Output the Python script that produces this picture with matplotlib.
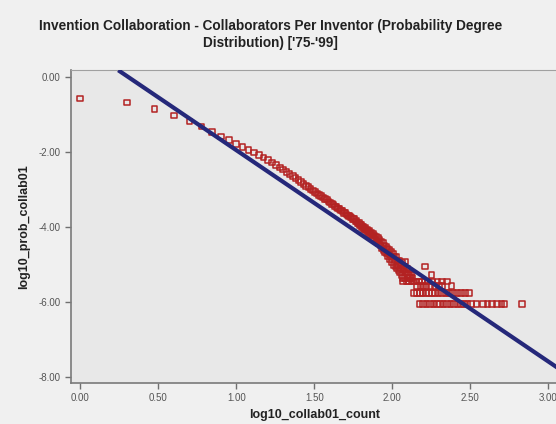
import numpy as np
import matplotlib
matplotlib.use("Agg")
import matplotlib.pyplot as plt

plt.rcParams['font.family'] = ['Liberation Sans', 'DejaVu Sans']
plt.rcParams['axes.unicode_minus'] = False

# -----------------------------
# Data
# -----------------------------
# smooth head of the distribution (one point per collaborator count)
head_x = [0.000, 0.301, 0.477, 0.602, 0.699, 0.778, 0.845, 0.903, 0.954, 1.000,
          1.041, 1.079, 1.114, 1.146, 1.176, 1.204, 1.230, 1.255, 1.279, 1.301,
          1.322, 1.342, 1.362, 1.380, 1.398, 1.415, 1.431, 1.447, 1.462, 1.477,
          1.491, 1.505, 1.519, 1.531, 1.544, 1.556, 1.568, 1.580, 1.591, 1.602,
          1.613, 1.623, 1.633, 1.643, 1.653, 1.663, 1.672, 1.681, 1.690, 1.699]
head_y = [-0.58, -0.69, -0.86, -1.04, -1.20, -1.33, -1.47, -1.59, -1.69, -1.79,
          -1.87, -1.95, -2.02, -2.09, -2.16, -2.23, -2.29, -2.36, -2.42, -2.48,
          -2.54, -2.60, -2.65, -2.70, -2.76, -2.81, -2.86, -2.91, -2.95, -3.00,
          -3.04, -3.08, -3.12, -3.15, -3.19, -3.22, -3.27, -3.28, -3.33, -3.36,
          -3.40, -3.41, -3.46, -3.48, -3.52, -3.53, -3.57, -3.59, -3.63, -3.64]

# noisy middle section
mid_x = [1.708, 1.716, 1.724, 1.732, 1.740, 1.748, 1.756, 1.763, 1.771, 1.778,
         1.785, 1.792, 1.799, 1.806, 1.813, 1.820, 1.826, 1.833, 1.839, 1.845,
         1.851, 1.857, 1.863, 1.869, 1.875, 1.881, 1.886, 1.892, 1.898, 1.903,
         1.908, 1.914, 1.919, 1.924, 1.929, 1.934, 1.940, 1.944, 1.949, 1.954,
         1.959, 1.964, 1.968, 1.973, 1.978, 1.982, 1.987, 1.991, 1.996, 2.000,
         2.004, 2.009, 2.013, 2.017, 2.021, 2.025, 2.029, 2.033, 2.037, 2.041,
         2.045, 2.049, 2.053, 2.057, 2.061, 2.064, 2.068, 2.072, 2.076, 2.079,
         2.083, 2.086, 2.093, 2.097, 2.100, 2.107, 2.111, 2.114, 2.124, 2.130]
mid_y = [-3.68, -3.70, -3.71, -3.75, -3.76, -3.80, -3.80, -3.86, -3.85, -3.90,
         -3.91, -3.96, -3.94, -4.01, -4.00, -4.06, -4.03, -4.10, -4.08, -4.15,
         -4.12, -4.20, -4.16, -4.24, -4.20, -4.30, -4.24, -4.34, -4.27, -4.40,
         -4.31, -4.45, -4.36, -4.50, -4.40, -4.58, -4.44, -4.62, -4.50, -4.68,
         -4.55, -4.72, -4.60, -4.80, -4.62, -4.75, -4.88, -4.68, -4.82, -4.95,
         -4.72, -5.02, -4.80, -4.90, -5.07, -4.80, -5.12, -4.92, -5.02, -5.17,
         -4.90, -5.22, -5.02, -5.12, -5.29, -4.97, -5.37, -5.17, -5.07, -5.37,
         -4.93, -5.22, -5.29, -5.12, -5.29, -5.37, -5.22, -5.37, -5.29, -5.37]

# sparse tail: counts of 1..4 inventors sit on fixed levels
tail_x4 = [2.068, 2.093, 2.107, 2.124, 2.140, 2.155, 2.170, 2.190, 2.210, 2.230,
           2.255, 2.290, 2.320, 2.350]
tail_x3 = [2.160, 2.180, 2.200, 2.220, 2.245, 2.270, 2.300, 2.320, 2.380]
tail_x2 = [2.140, 2.160, 2.176, 2.195, 2.215, 2.235, 2.255, 2.275, 2.295, 2.320,
           2.345, 2.365, 2.390, 2.415, 2.440, 2.465, 2.490]
tail_x1 = [2.175, 2.197, 2.219, 2.241, 2.263, 2.285, 2.307, 2.329, 2.351, 2.373,
           2.395, 2.417, 2.439, 2.461, 2.483, 2.505, 2.540, 2.580, 2.610, 2.640,
           2.670, 2.700, 2.720, 2.830]
tail_levels = [-5.47, -5.59, -5.77, -6.07]
extra_x = [2.210, 2.250]
extra_y = [-5.07, -5.29]

# power-law fit line
fit_intercept = 0.86
fit_slope = -2.82
fit_range = [0.255, 3.10]

x = head_x + mid_x + extra_x
y = head_y + mid_y + extra_y
for lev, xs in zip(tail_levels, [tail_x4, tail_x3, tail_x2, tail_x1]):
    x += xs
    y += [lev] * len(xs)

# -----------------------------
# Plot
# -----------------------------
fig = plt.figure(figsize=(5.56, 4.24), dpi=100, facecolor='#f0f0f0')
ax = fig.add_axes([0.128, 0.097, 0.875, 0.738])
ax.set_facecolor('#e8e8e8')

ax.scatter(x, y, marker='s', s=16, facecolors='none', edgecolors='#b32222',
           linewidths=1.1, zorder=2)

fx = np.array(fit_range)
ax.plot(fx, fit_intercept + fit_slope * fx, color='#25287a', lw=3, zorder=3)

ax.set_xlim(-0.058, 3.06)
ax.set_ylim(-8.17, 0.18)
ax.set_xticks([0, 0.5, 1.0, 1.5, 2.0, 2.5, 3.0])
ax.set_yticks([0, -2, -4, -6, -8])
ax.xaxis.set_major_formatter(matplotlib.ticker.FormatStrFormatter('%.2f'))
ax.yaxis.set_major_formatter(matplotlib.ticker.FormatStrFormatter('%.2f'))
ax.tick_params(colors='#707070', labelcolor='#555555', labelsize=7, length=4, width=1)

for side in ['left', 'bottom']:
    ax.spines[side].set_color('#7a7a7a')
    ax.spines[side].set_linewidth(1.2)
ax.spines['top'].set_color('#a0a0a0')
ax.spines['right'].set_visible(False)

ax.set_xlabel('log10_collab01_count', fontsize=9, fontweight='bold', color='#222222')
ax.set_ylabel('log10_prob_collab01', fontsize=9, fontweight='bold', color='#222222',
              labelpad=6)
fig.suptitle("Invention Collaboration - Collaborators Per Inventor (Probability Degree\n"
             "Distribution) ['75-'99]", x=0.487, y=0.955, fontsize=9.8,
             fontweight='bold', color='#222222', linespacing=1.3)

fig.savefig('out.png', dpi=100, facecolor=fig.get_facecolor())
plt.close(fig)
